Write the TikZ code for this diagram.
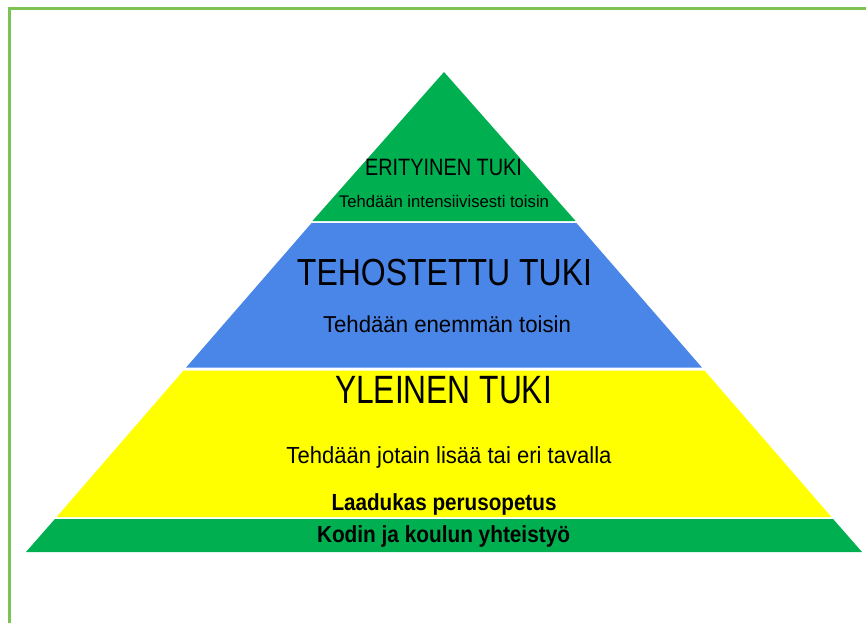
\documentclass[tikz,border=0pt]{standalone}
\usepackage{fontspec}
\setmainfont{Liberation Sans}
\usepackage{graphicx}
\definecolor{pgreen}{HTML}{00B050}
\definecolor{pblue}{HTML}{4A86E8}
\definecolor{pyellow}{HTML}{FFFF00}
\definecolor{frameg}{HTML}{7DC353}
\newcommand{\fitt}[3]{\fontsize{#1}{#1}\selectfont\resizebox{#2pt}{\height}{#3}}
\tikzset{
  lbl/.style={anchor=base, inner sep=0pt, outer sep=0pt, text=black},
  gap/.style={fill=white, draw=none}
}
\begin{document}
\begin{tikzpicture}[x=1pt, y=-1pt]
\useasboundingbox (0,0) rectangle (866,623);
\fill[white] (0,0) rectangle (866,623);
% frame
\draw[frameg, line width=3.5pt] (9.5,623) -- (9.5,8.7) -- (866,8.7);
% pyramid bands
\fill[pgreen] (444,72) -- (312.4,221) -- (575.6,221) -- cycle;
\fill[pblue] (311.6,223) -- (576.4,223) -- (701.9,367.5) -- (186.1,367.5) -- cycle;
\fill[pyellow] (183.5,370.5) -- (704.5,370.5) -- (831.4,517) -- (56.6,517) -- cycle;
\fill[pgreen] (54.9,519) -- (833.1,519) -- (862,552) -- (26,552) -- cycle;
% labels
\node[lbl] (t1) at (443.5,175) {\fitt{23.7}{157}{ERITYINEN TUKI}};
\node[lbl] (s1) at (444,207) {\fitt{16.8}{210}{Tehdään intensiivisesti toisin}};
\node[lbl] (t2) at (444.5,285) {\fitt{37.7}{295}{TEHOSTETTU TUKI}};
\node[lbl] (s2) at (447,332.5) {\fitt{23}{248}{Tehdään enemmän toisin}};
\node[lbl] (t3) at (443.5,403) {\fitt{39.5}{217}{YLEINEN TUKI}};
\node[lbl] (s3) at (449,463.5) {\fitt{23.3}{325}{Tehdään jotain lisää tai eri tavalla}};
\node[lbl] (b1) at (444,510) {\bfseries\fitt{23.3}{225}{Laadukas perusopetus}};
\node[lbl] (b2) at (443.5,542.5) {\bfseries\fitt{23.3}{253}{Kodin ja koulun yhteistyö}};
\end{tikzpicture}
\end{document}
